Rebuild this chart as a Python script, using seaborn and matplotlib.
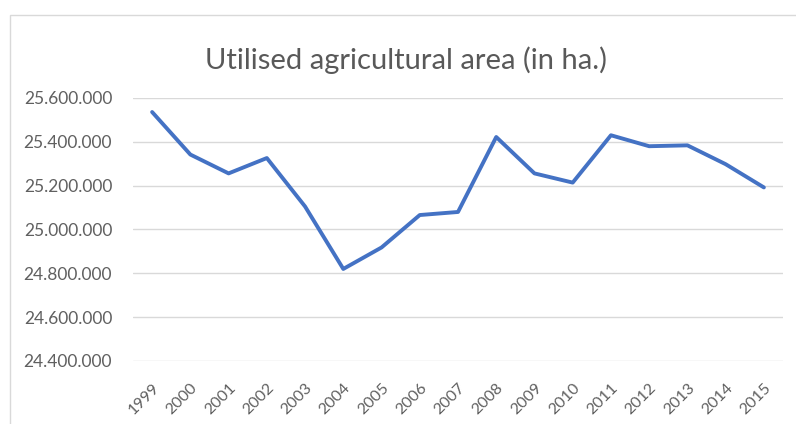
import matplotlib
matplotlib.use("Agg")
import matplotlib.pyplot as plt
import matplotlib.ticker as mticker
from matplotlib.patches import Rectangle
import seaborn as sns
import pandas as pd

years = ["1999", "2000", "2001", "2002", "2003", "2004", "2005", "2006", "2007",
         "2008", "2009", "2010", "2011", "2012", "2013", "2014", "2015"]
area_ha = [25536000, 25342000, 25256000, 25326000, 25105000, 24820000, 24918000,
           25066000, 25080000, 25422000, 25256000, 25214000, 25430000, 25380000,
           25384000, 25298000, 25192000]
y_ticks = [24400000, 24600000, 24800000, 25000000, 25200000, 25400000, 25600000]

df = pd.DataFrame({"year": years, "area": area_ha})

sns.set_theme(style="white")
plt.rcParams["font.family"] = ["Lato", "DejaVu Sans"]

fig = plt.figure(figsize=(7.96, 4.24), dpi=100)
fig.patch.set_facecolor("white")

# light chart-area border
fig.add_artist(Rectangle((10 / 796, -0.01), 1.0, 1 - 15 / 424 + 0.01,
                         transform=fig.transFigure, fill=False,
                         edgecolor="#d9d9d9", linewidth=1.0))

ax = fig.add_axes([133 / 796, 1 - 361 / 424, 650 / 796, 263 / 424])
sns.lineplot(data=df, x="year", y="area", ax=ax, color="#4472C4",
             linewidth=2.8, sort=False)

ax.set_xlim(-0.5, len(years) - 0.5)
ax.set_ylim(y_ticks[0], y_ticks[-1])
ax.set_yticks(y_ticks)
ax.yaxis.set_major_formatter(
    mticker.FuncFormatter(lambda v, _: f"{int(v):,}".replace(",", ".")))
ax.grid(axis="y", color="#d9d9d9", linewidth=1.0)
ax.grid(axis="x", visible=False)
for s in ax.spines.values():
    s.set_visible(False)
ax.set_xlabel("")
ax.set_ylabel("")
ax.tick_params(axis="both", length=0, colors="#606060")
ax.tick_params(axis="y", pad=15, labelsize=12.5)
ax.tick_params(axis="x", pad=14, labelsize=11.5)
plt.setp(ax.get_xticklabels(), rotation=45, ha="right", rotation_mode="anchor")

fig.text(0.51, 1 - 60 / 424, "Utilised agricultural area (in ha.)",
         ha="center", va="center", fontsize=21, color="#595959")

fig.savefig("out.png", dpi=100, facecolor="white")
